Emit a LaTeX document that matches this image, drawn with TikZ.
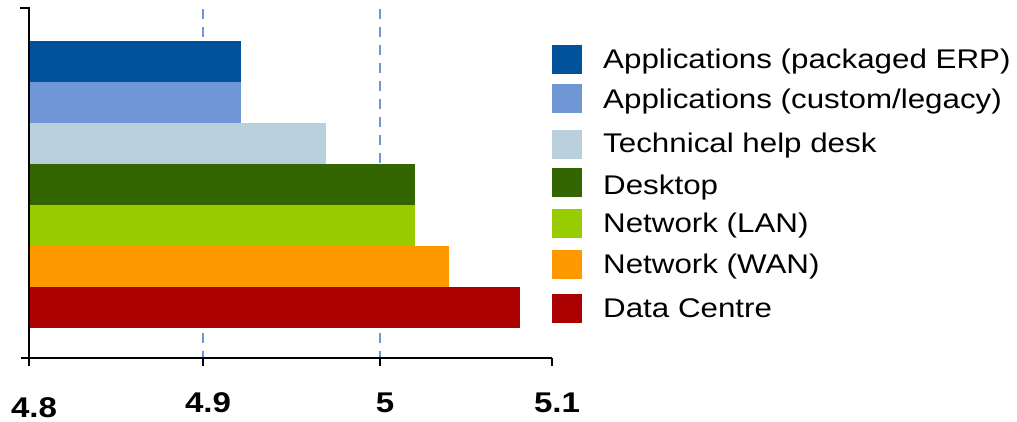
\documentclass[tikz,border=0pt]{standalone}
\usepackage{fontspec}
\setmainfont[FakeStretch=1.16]{Liberation Sans}
\usepackage{tikz}
\usetikzlibrary{positioning}

\definecolor{erpblue}{RGB}{0,82,155}
\definecolor{custblue}{RGB}{111,151,214}
\definecolor{helpgray}{RGB}{186,207,220}
\definecolor{deskgreen}{RGB}{51,102,0}
\definecolor{langreen}{RGB}{153,204,0}
\definecolor{wanorange}{RGB}{255,153,0}
\definecolor{dcred}{RGB}{170,0,0}
\definecolor{gridblue}{RGB}{111,151,216}

\begin{document}
\begin{tikzpicture}[x=1pt, y=-1pt]
    \tikzstyle{axis} = [line width=2.5pt, black]
    \tikzstyle{gridline} = [line width=2.5pt, dash pattern=on 10pt off 8pt, draw=gridblue]
    \tikzstyle{ticklabel} = [font=\bfseries\fontsize{28.5}{29}\selectfont, anchor=base, inner sep=0pt]
    \tikzstyle{legend} = [font=\fontsize{27}{28}\selectfont, anchor=base west, inner sep=0pt]

    \useasboundingbox (0,0) rectangle (1017,422);

    % grid
    \foreach \x in {203, 380}
    \draw [gridline] (\x,9) -- (\x,358);

    % bars + legend
    \foreach \i/\col/\len/\sq/\base/\txt in {0/erpblue/241/45/69/{Applications (packaged ERP)},
                                             1/custblue/241/84/109/{Applications (custom/legacy)},
                                             2/helpgray/326/130/153/{Technical help desk},
                                             3/deskgreen/415/168/195/{Desktop},
                                             4/langreen/415/209/233/{Network (LAN)},
                                             5/wanorange/449/250/273/{Network (WAN)},
                                             6/dcred/520/294/317/{Data Centre}}
    {
        \fill [\col] (30,41+41*\i) rectangle (\len,82+41*\i);
        \fill [\col] (552,\sq) rectangle (582,\sq+29);
        \node [legend] (lab\i) at (603,\base) {\txt};
    }

    % axes
    \draw [axis] (20,8) -- (29,8) -- (29,358);
    \draw [axis] (21,358) -- (552,358);
    \foreach \k/\x/\dy/\txt in {0/29/5/4.8, 1/203/0/4.9, 2/380/0/5, 3/552/0/5.1}
    {
        \draw [axis] (\x,358) -- (\x,366);
        \node [ticklabel] (tick\k) at (\x+5,412+\dy) {\txt};
    }
\end{tikzpicture}
\end{document}
